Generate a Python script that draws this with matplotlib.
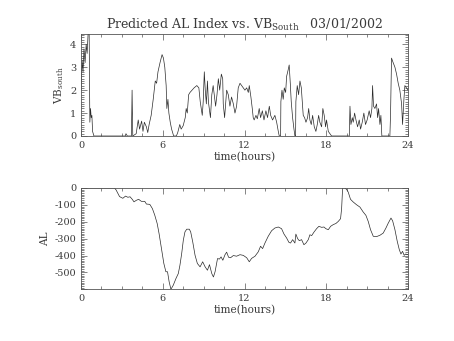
import matplotlib
matplotlib.use("Agg")
import matplotlib.pyplot as plt
from matplotlib.ticker import MultipleLocator, FuncFormatter

plt.rcParams['axes.unicode_minus'] = False

# Southward IMF component (VB_south), hours vs. value
vb_time = [0.0, 0.08, 0.15, 0.22, 0.3, 0.38, 0.45, 0.52, 0.6, 0.65, 0.7, 0.75, 0.8, 0.85, 0.95,
           3.25, 3.3, 3.4, 3.7, 3.75, 3.8, 4.05, 4.2, 4.3, 4.45, 4.55, 4.65, 4.8, 4.9, 5.0,
           5.15, 5.3, 5.45, 5.55, 5.65, 5.8, 5.95, 6.05, 6.15, 6.25, 6.3, 6.38, 6.45, 6.55,
           6.65, 6.8, 7.0, 7.1, 7.25, 7.35, 7.5, 7.65, 7.72, 7.8, 7.9, 8.0, 8.15, 8.3, 8.5,
           8.65, 8.75, 8.9, 8.97, 9.05, 9.12, 9.2, 9.28, 9.35, 9.5, 9.6, 9.7, 9.8, 9.88, 9.98,
           10.08, 10.18, 10.3, 10.4, 10.44, 10.54, 10.69, 10.81, 10.93, 11.05, 11.18, 11.3,
           11.42, 11.54, 11.67, 11.79, 11.91, 12.03, 12.16, 12.28, 12.35, 12.47, 12.57, 12.64,
           12.71, 12.84, 12.94, 13.08, 13.18, 13.31, 13.43, 13.57, 13.69, 13.82, 13.92, 14.06,
           14.23, 14.36, 14.48, 14.55, 14.65, 14.67, 14.75, 14.84, 14.92, 15.02, 15.09, 15.21,
           15.28, 15.36, 15.43, 15.53, 15.63, 15.7, 15.75, 15.77, 15.87, 15.97, 16.07, 16.17,
           16.24, 16.31, 16.41, 16.51, 16.63, 16.71, 16.8, 16.9, 17.0, 17.12, 17.24, 17.34,
           17.44, 17.53, 17.66, 17.75, 17.85, 17.95, 18.02, 18.15, 18.27, 18.39, 19.69, 19.74,
           19.81, 19.91, 19.98, 20.08, 20.18, 20.3, 20.42, 20.52, 20.64, 20.76, 20.88, 21.0,
           21.15, 21.25, 21.35, 21.4, 21.47, 21.57, 21.69, 21.77, 21.84, 21.94, 22.01, 22.08,
           22.67, 22.72, 22.79, 22.91, 23.04, 23.16, 23.28, 23.4, 23.53, 23.6, 23.7, 23.77, 24.0]
vb_south = [2.0, 3.3, 2.8, 3.8, 3.2, 4.0, 3.6, 4.45, 4.45, 0.6, 1.2, 0.8, 0.9, 0.2, 0.0,
            0.0, 0.1, 0.0, 0.0, 2.0, 0.0, 0.1, 0.7, 0.3, 0.65, 0.2, 0.6, 0.4, 0.15, 0.5,
            0.9, 1.6, 2.4, 2.3, 2.8, 3.2, 3.55, 3.4, 3.0, 2.2, 1.2, 1.6, 1.0, 0.6,
            0.3, 0.0, 0.0, 0.15, 0.5, 0.3, 0.45, 0.8, 1.2, 1.0, 1.8, 1.9, 2.0, 2.1, 2.2,
            2.1, 1.5, 0.9, 1.5, 2.8, 2.0, 1.4, 2.4, 1.5, 0.8, 1.8, 2.2, 1.7, 1.3, 1.8,
            2.5, 2.0, 2.7, 2.5, 1.4, 0.8, 2.0, 1.8, 1.3, 1.7, 1.4, 1.0,
            1.3, 2.1, 2.3, 2.2, 2.1, 2.0, 2.1, 1.9, 2.2, 1.7, 1.2, 0.8,
            0.7, 0.9, 0.75, 1.2, 0.8, 1.1, 0.7, 1.1, 0.8, 1.3, 0.9, 0.7,
            0.9, 0.6, 0.2, 0.0, 0.0, 1.5, 2.0, 1.6, 2.1, 1.9, 2.6, 2.9,
            3.1, 2.3, 1.5, 0.8, 0.3, 0.0, 0.0, 1.5, 2.2, 1.8, 2.4, 2.1,
            1.5, 0.9, 0.8, 0.6, 0.8, 1.2, 0.7, 0.5, 0.9, 0.4, 0.2, 0.5,
            0.9, 0.6, 0.4, 1.2, 0.9, 0.4, 0.7, 0.2, 0.1, 0.0, 0.0, 1.3,
            0.5, 0.8, 0.6, 1.0, 0.7, 0.4, 0.7, 0.3, 0.6, 1.0, 0.5, 0.7,
            1.1, 0.8, 1.2, 2.2, 1.3, 1.2, 1.4, 0.8, 1.2, 0.5, 0.9, 0.0,
            0.0, 1.0, 3.4, 3.2, 3.0, 2.7, 2.3, 2.0, 1.4, 0.5, 1.6, 2.2, 2.0]

# Predicted AL index, hours vs. nT
al_time = [0.0, 2.46, 2.58, 2.83, 3.07, 3.27, 3.44, 3.6, 3.76, 3.89, 4.06, 4.23, 4.43, 4.68,
           4.8, 5.05, 5.24, 5.41, 5.59, 5.73, 5.9, 6.08, 6.23, 6.35, 6.47, 6.6, 6.77, 6.97,
           7.14, 7.26, 7.39, 7.51, 7.63, 7.76, 7.95, 8.05, 8.2, 8.37, 8.54, 8.74, 8.93, 9.11,
           9.28, 9.43, 9.6, 9.72, 9.84, 10.02, 10.16, 10.28, 10.41, 10.57, 10.69, 10.83,
           10.98, 11.18, 11.42, 11.67, 11.91, 12.16, 12.35, 12.52, 12.77, 13.01, 13.18,
           13.33, 13.5, 13.74, 13.99, 14.23, 14.48, 14.72, 14.9, 15.09, 15.26, 15.38, 15.53,
           15.7, 15.77, 15.9, 16.02, 16.19, 16.36, 16.51, 16.68, 16.8, 16.93, 17.1, 17.29,
           17.46, 17.66, 17.83, 17.97, 18.15, 18.32, 18.51, 18.71, 18.88, 19.05, 19.13, 19.2,
           19.37, 19.49, 19.61, 19.78, 19.98, 20.22, 20.47, 20.71, 20.91, 21.08, 21.25, 21.45,
           21.69, 21.94, 22.18, 22.38, 22.55, 22.75, 22.87, 23.04, 23.21, 23.36, 23.48, 23.6,
           23.72, 23.82, 24.0]
al_index = [0, 0, -12, -51, -61, -48, -55, -52, -67, -82, -73, -67, -79, -79,
            -95, -97, -122, -160, -210, -270, -357, -447, -496, -496, -556, -600, -576, -536,
            -507, -458, -388, -309, -260, -244, -244, -260, -319, -398, -447, -467, -437, -467,
            -487, -454, -507, -527, -496, -418, -421, -408, -428, -395, -380, -410,
            -413, -400, -404, -395, -399, -413, -437, -417, -404, -378, -345,
            -359, -326, -286, -253, -237, -231, -241, -273, -296, -322, -326, -306,
            -326, -273, -300, -312, -306, -336, -326, -306, -277, -282, -261, -241,
            -227, -233, -231, -241, -247, -227, -217, -210, -198, -182, -119, 0,
            0, -8, -24, -67, -83, -99, -113, -142, -162, -198, -247, -286,
            -288, -280, -267, -237, -208, -178, -194, -247, -316, -365, -391, -375,
            -399, -391, -395]

hour_ticks = [0, 6, 12, 18, 24]

ink = '#3a3a3a'
title_font = dict(family='DejaVu Serif', size=9, color=ink)
label_font = dict(family='DejaVu Serif', size=7.6, color=ink)
tick_font = 'DejaVu Serif'


def style_axes(ax):
    ax.set_xlim(0, 24)
    ax.xaxis.set_major_locator(MultipleLocator(6))
    ax.xaxis.set_minor_locator(MultipleLocator(1.5))
    ax.tick_params(which='both', direction='in', top=True, right=True,
                   width=0.5, color='#555555', labelcolor=ink, labelsize=7, pad=3.5)
    ax.tick_params(which='major', length=4)
    ax.tick_params(which='minor', length=2)
    for lab in ax.get_xticklabels() + ax.get_yticklabels():
        lab.set_fontfamily(tick_font)
    for sp in ax.spines.values():
        sp.set_linewidth(0.6)
        sp.set_color('#555555')
    ax.set_xticks(hour_ticks)
    ax.set_xticklabels([str(h) for h in hour_ticks], fontfamily=tick_font)
    ax.set_xlabel('time(hours)', labelpad=1.5, **label_font)


fig = plt.figure(figsize=(4.54, 3.41), dpi=100)
ax1 = fig.add_axes([0.1784, 0.6012, 0.7203, 0.2991])
ax2 = fig.add_axes([0.1784, 0.1516, 0.7203, 0.2971])

ax1.plot(vb_time, vb_south, color='#2a2a2a', lw=0.5)
ax1.set_ylim(0, 4.45)
ax1.yaxis.set_major_locator(MultipleLocator(1))
ax1.yaxis.set_minor_locator(MultipleLocator(0.1))
style_axes(ax1)
ax1.set_ylabel(r'VB$_{\mathregular{south}}$', labelpad=3, **label_font)
ax1.set_title(r'Predicted AL Index vs. VB$_{\mathregular{South}}$   03/01/2002',
              pad=4, **title_font)

ax2.plot(al_time, al_index, color='#2a2a2a', lw=0.5)
ax2.set_ylim(-600, 0)
ax2.yaxis.set_major_locator(MultipleLocator(100))
ax2.yaxis.set_minor_locator(MultipleLocator(10))
ax2.yaxis.set_major_formatter(FuncFormatter(lambda v, p: '%d' % v if v > -600 else ''))
style_axes(ax2)
ax2.set_ylabel('AL', labelpad=3, **label_font)

fig.savefig('out.png', dpi=100)
